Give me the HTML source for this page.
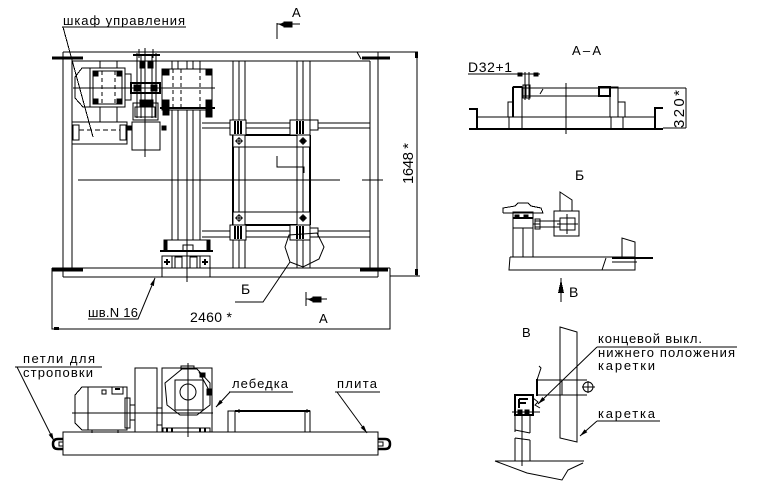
<!DOCTYPE html>
<html><head><meta charset="utf-8">
<style>
html,body{margin:0;padding:0;background:#fff;}
svg{display:block;}
text{font-family:"Liberation Sans","DejaVu Sans",sans-serif;fill:#000;stroke:none;}
</style></head><body>
<svg width="758" height="495" viewBox="0 0 758 495" xmlns="http://www.w3.org/2000/svg">
<defs>
<marker id="ah" markerWidth="8" markerHeight="4" refX="8" refY="2" orient="auto" markerUnits="userSpaceOnUse">
<path d="M0,0 L8,2 L0,4 z" fill="#000"/>
</marker>
</defs>
<rect width="758" height="495" fill="#fff"/>
<g stroke="#000" stroke-width="1" fill="none" shape-rendering="crispEdges">

<!-- ============ MAIN PLAN VIEW ============ -->
<path d="M63,52 H418 M63,52 V277 M72,61 V268 M72,61 H370 M370,61 V268 M378,52 V277 M52,268 H390 M63,277 H378"/>
<path d="M357,52 L361,59" shape-rendering="auto"/>
<path d="M52,58 H83 M52,270 H83 M360,270 H388 M362,58 H390" stroke-width="3"/>
<path d="M52,268 V329 H390 V268"/>
<rect x="54" y="327" width="5" height="3" fill="#000" stroke="none"/>
<path d="M417,52 V276 M390,276 H420"/>
<rect x="415" y="52" width="3" height="6" fill="#000" stroke="none"/>
<rect x="415" y="269" width="3" height="6" fill="#000" stroke="none"/>

<!-- cabinet -->
<rect x="72" y="122" width="55" height="22"/>
<rect x="73" y="125" width="6" height="15"/>
<rect x="120" y="125" width="6" height="15"/>
<path d="M79,130 H120" stroke-dasharray="5,3"/>
<path d="M100,61 V68 M117,61 V68 M100,107 V122 M117,107 V122"/>
<!-- motor -->
<polyline points="90,68 82,68 75,77 75,98 83,107 90,107"/>
<rect x="90" y="68" width="35" height="39" fill="#fff"/>
<rect x="93" y="71" width="29" height="33"/>
<path d="M102,71 V104 M115,71 V104" stroke-dasharray="4,3"/>
<rect x="94" y="72" width="4" height="4" fill="#000"/>
<rect x="117" y="72" width="4" height="4" fill="#000"/>
<rect x="94" y="99" width="4" height="4" fill="#000"/>
<rect x="117" y="99" width="4" height="4" fill="#000"/>
<rect x="125" y="74" width="6" height="26"/>
<!-- centre column gearbox -->
<path d="M137,53 V118 M156,53 V118 M141,55 V118 M152,55 V118"/>
<path d="M133,55 H160" stroke-width="2"/>
<path d="M139,49 V58 M153,49 V58"/>
<rect x="140" y="62" width="5" height="6" fill="#000"/>
<rect x="148" y="62" width="5" height="6" fill="#000"/>
<rect x="140" y="100" width="13" height="6" fill="#000"/>
<rect x="131" y="83" width="29" height="10" stroke-width="2"/>
<rect x="134" y="85" width="6" height="6" fill="#000"/>
<rect x="151" y="85" width="6" height="6" fill="#000"/>
<rect x="133" y="103" width="25" height="17"/>
<rect x="135" y="107" width="20" height="10"/>
<rect x="132" y="122" width="28" height="28"/>
<rect x="127" y="126" width="4" height="4" fill="#000"/>
<rect x="162" y="126" width="4" height="4" fill="#000"/>
<path d="M145,48 V157"/>
<!-- right box (drum) -->
<path d="M172,61 V69 M178,61 V69 M187,61 V69 M193,61 V69 M200,61 V69"/>
<path d="M172,110 V240 M178,110 V240 M187,110 V240 M193,110 V240 M200,110 V240"/>
<rect x="162" y="69" width="50" height="41"/>
<path d="M173,69 V110 M181,69 V110 M200,69 V110" stroke-dasharray="4,3"/>
<rect x="163" y="69" width="6" height="6" fill="#000"/>
<rect x="206" y="69" width="6" height="6" fill="#000"/>
<rect x="163" y="100" width="6" height="15" fill="#000"/>
<rect x="206" y="100" width="6" height="17" fill="#000"/>
<path d="M160,108 H215" stroke-width="2"/>
<path d="M73,88 H215"/>

<!-- rails/guides -->
<path d="M233,61 V268 M239,61 V268 M245,61 V268 M297,61 V268 M303,61 V268 M310,61 V268"/>
<path d="M202,123 H370 M202,128 H370 M202,231 H370 M202,237 H370"/>
<!-- carriage -->
<path d="M233,135 H310 M233,225 H310 M233,135 V225 M310,135 V225" stroke-width="2"/>
<path d="M245,147 H297 M245,212 H297"/>
<!-- corner blocks -->
<rect x="230" y="120" width="16" height="15" fill="#fff"/>
<path d="M235,121 V134 M238,121 V134 M241,121 V134" stroke-width="2"/>
<rect x="233" y="135" width="12" height="12" fill="#fff"/>
<rect x="290" y="120" width="20" height="15" fill="#fff"/>
<rect x="310" y="120" width="8" height="10" fill="#fff"/>
<path d="M297,121 V134 M300,121 V134 M303,121 V134" stroke-width="2"/>
<rect x="297" y="135" width="13" height="12" fill="#fff"/>
<rect x="233" y="212" width="12" height="13" fill="#fff"/>
<rect x="230" y="225" width="16" height="15" fill="#fff"/>
<path d="M235,226 V239 M238,226 V239 M241,226 V239" stroke-width="2"/>
<rect x="297" y="212" width="13" height="13" fill="#fff"/>
<rect x="290" y="225" width="20" height="15" fill="#fff"/>
<rect x="310" y="228" width="8" height="9" fill="#fff"/>
<path d="M297,226 V239 M300,226 V239 M303,226 V239" stroke-width="2"/>
<g shape-rendering="auto">
<circle cx="239" cy="141" r="2.5"/><path d="M235,141 H243 M239,137 V145"/>
<circle cx="303" cy="141" r="2.5" fill="#000"/><path d="M299,141 H307 M303,137 V145"/>
<circle cx="239" cy="218" r="2.5"/><path d="M235,218 H243 M239,214 V222"/>
<circle cx="303" cy="218" r="2.5" fill="#000"/><path d="M299,218 H307 M303,214 V222"/>
</g>
<path d="M277,156 V167 H304 V173"/>
<path d="M78,180 H340 M362,180 H383"/>
<polygon points="285,247 289,235 317,233 324,247 319,259 303,267 290,262" shape-rendering="auto"/>

<!-- lower unit -->
<rect x="167" y="240" width="40" height="11"/>
<rect x="183" y="245" width="10" height="6"/>
<rect x="164" y="240" width="3" height="11" fill="#000"/>
<rect x="207" y="240" width="3" height="11" fill="#000"/>
<path d="M160,251 H213" stroke-width="2"/>
<rect x="162" y="256" width="48" height="12"/>
<rect x="162" y="256" width="10" height="12"/>
<rect x="200" y="256" width="10" height="12"/>
<rect x="175" y="257" width="7" height="11"/>
<rect x="190" y="257" width="7" height="11"/>
<path d="M164,262 H170 M167,259 V265 M202,262 H208 M205,259 V265" stroke-width="2"/>
<rect x="162" y="268" width="48" height="9"/>
<path d="M187,240 V282"/>

<!-- leaders main -->
<path d="M62,27 H186 M63,27 L93,137"/>
<path d="M88,319 H138 L155,278" marker-end="url(#ah)" shape-rendering="auto"/>
<path d="M235,302 H263 L290,262" shape-rendering="auto"/>
<path d="M277,23 V39 M277,24 H300"/>
<rect x="284" y="22" width="8" height="5" fill="#000"/>
<polygon points="279,24.5 284,22 284,27" fill="#000" stroke="none"/>
<path d="M306,292 V306 M306,299 H327"/>
<rect x="313" y="297" width="8" height="5" fill="#000"/>
<polygon points="308,299.5 313,297 313,302" fill="#000" stroke="none"/>

<!-- ============ SECTION A-A ============ -->
<path d="M477,117 H655"/>
<path d="M469,129 H663" stroke-width="2"/>
<path d="M663,128 H686 M522,88 H686 M686,88 V128 M522,96 H599"/>
<path d="M469,109 H477 V129 M663,108 H655 V128" stroke-width="2"/>
<rect x="513" y="87" width="9" height="30"/>
<path d="M513,87 H522 M513,87 V117" stroke-width="2"/>
<rect x="508" y="102" width="5" height="15"/>
<rect x="509" y="117" width="13" height="12"/>
<rect x="523" y="85" width="7" height="13"/>
<path d="M526,85 V98"/>
<path d="M540,94 L543,89" shape-rendering="auto"/>
<rect x="599" y="87" width="11" height="9" stroke-width="2"/>
<rect x="610" y="87" width="8" height="30"/>
<rect x="618" y="102" width="7" height="15"/>
<rect x="611" y="117" width="12" height="12"/>
<path d="M566,83 V134"/>
<path d="M468,74 H540 M525,72 V100 M529,72 V100"/>
<rect x="518" y="73" width="4" height="3" fill="#000"/>
<rect x="534" y="73" width="4" height="3" fill="#000"/>

<!-- ============ VIEW Б ============ -->
<polyline points="503,213 503,208 515,206 518,203 528,203 531,206 541,208 543,213 503,213"/>
<rect x="513" y="212" width="20" height="16"/>
<path d="M513,218 H533" stroke-width="2"/>
<rect x="515" y="215" width="4" height="3" fill="#000"/>
<rect x="524" y="215" width="4" height="3" fill="#000"/>
<path d="M513,228 V257 M523,228 V257 M533,228 V257"/>
<path d="M535,221 H560 M535,227 H560"/>
<rect x="535" y="219" width="5" height="10"/>
<path d="M533,224 H540"/>
<path d="M560,211 V192 L572,200 V211" shape-rendering="auto"/>
<rect x="554" y="211" width="25" height="25"/>
<rect x="560" y="218" width="15" height="12"/>
<path d="M567,214 V234 M557,224 H578"/>
<path d="M510,257 H635 M510,257 L509,270 H635 V257 M606,258 L602,270" shape-rendering="auto"/>
<path d="M622,257 V238 L635,242 V257" shape-rendering="auto"/>
<path d="M612,258 H653" stroke-width="2"/>
<path d="M612,262 H637"/>
<path d="M561,278 V302"/>
<polygon points="561,279 558,293 564,293" fill="#000" stroke="none"/>

<!-- ============ VIEW В ============ -->
<polygon points="560,327 577,332 577,442 560,438" shape-rendering="auto"/>
<path d="M537,380 H587 M537,395 H587 M562,380 V395"/>
<path d="M537,379 V396" stroke-width="2"/>
<g shape-rendering="auto">
<circle cx="588" cy="387" r="5"/>
<path d="M582,387 H595 M588,381 V393"/>
<path d="M537,380 L541,368 L539,366"/>
<path d="M533,398 L538,402 L535,405 L540,408"/>
</g>
<rect x="515" y="395" width="18" height="20" stroke-width="2"/>
<path d="M519,399 V408 M519,399 H528 M519,403 H526" stroke-width="2"/>
<path d="M512,412 H540"/>
<rect x="518" y="410" width="4" height="4" fill="#000"/>
<rect x="525" y="410" width="4" height="4" fill="#000"/>
<path d="M515,415 V432 M530,415 V433 M515,438 V461 M530,440 V461 M522,410 V466"/>
<path d="M515,430 L530,433 M515,438 L530,440" shape-rendering="auto"/>
<path d="M495,461 H584"/>
<polyline points="495,461 527,473 562,480 568,470 583,463" shape-rendering="auto"/>
<path d="M597,347 H737"/>
<path d="M597,347 L538,404" marker-end="url(#ah)" shape-rendering="auto"/>
<path d="M597,421 H660"/>
<path d="M597,421 L580,436" marker-end="url(#ah)" shape-rendering="auto"/>

<!-- ============ SIDE VIEW ============ -->
<rect x="63" y="432" width="315" height="23"/>
<g shape-rendering="auto">
<path d="M63,439 H58 Q53,439 53,444 Q53,449 58,449 H63" stroke-width="2.5"/>
<path d="M378,439 H385 Q390,439 390,444 Q390,449 385,449 H378" stroke-width="2.5"/>
<path d="M63,442 H59 V446 H63 M378,442 H383 V446 H378"/>
</g>
<polygon points="82,387 127,387 127,430 82,430 75,423 75,395"/>
<path d="M88,387 V430"/>
<rect x="125" y="398" width="5" height="30"/>
<rect x="130" y="405" width="5" height="15"/>
<rect x="102" y="390" width="4" height="4"/>
<rect x="112" y="387" width="11" height="7"/>
<path d="M115,389 H120" stroke-width="2"/>
<path d="M92,430 V433 M118,430 V433"/>
<rect x="135" y="368" width="22" height="64"/>
<rect x="157" y="408" width="5" height="17"/>
<rect x="162" y="368" width="50" height="64"/>
<polygon points="182,369 197,369 210,383 210,405 197,415 180,415 167,405 165,383" shape-rendering="auto"/>
<rect x="175" y="380" width="28" height="30"/>
<circle cx="188" cy="392" r="8" shape-rendering="auto"/>
<rect x="181" y="366" width="13" height="3"/>
<rect x="207" y="389" width="5" height="6" fill="#000"/>
<rect x="200" y="373" width="5" height="4" fill="#000"/>
<path d="M199,372 L210,392" shape-rendering="auto"/>
<rect x="163" y="428" width="47" height="4"/>
<path d="M167,428 V432 M172,428 V432 M200,428 V432 M205,428 V432" stroke-width="2"/>
<path d="M72,413 H213 M188,363 V437"/>
<rect x="228" y="411" width="82" height="21"/>
<path d="M235,411 V432 M305,411 V432"/>
<path d="M235,411 H310" stroke-width="2"/>
<path d="M239,409 V413 M307,409 V413"/>
<path d="M15,367 H102"/>
<path d="M17,367 L54,441" marker-end="url(#ah)" shape-rendering="auto"/>
<path d="M229,392 H293"/>
<path d="M230,392 L216,407" marker-end="url(#ah)" shape-rendering="auto"/>
<path d="M335,392 H380"/>
<path d="M337,392 L367,433" marker-end="url(#ah)" shape-rendering="auto"/>
</g>

<!-- ============ TEXT ============ -->
<text x="63" y="25" font-size="13" textLength="122" lengthAdjust="spacing">шкаф управления</text>
<text x="292" y="17" font-size="13">A</text>
<text x="319" y="323" font-size="13">A</text>
<text transform="translate(413,184) rotate(-90)" font-size="15" textLength="41" lengthAdjust="spacing">1648 *</text>
<text x="190" y="322" font-size="14" textLength="42" lengthAdjust="spacing">2460 *</text>
<text x="88" y="317" font-size="13" textLength="50" lengthAdjust="spacing">шв.N 16</text>
<text x="241" y="294" font-size="14">Б</text>
<text x="572" y="55" font-size="13" textLength="29" lengthAdjust="spacing">A–A</text>
<text x="468" y="72" font-size="14" textLength="44" lengthAdjust="spacing">D32+1</text>
<text transform="translate(684,128) rotate(-90)" font-size="15" textLength="38" lengthAdjust="spacing">320*</text>
<text x="575" y="180" font-size="14">Б</text>
<text x="569" y="297" font-size="14">В</text>
<text x="522" y="337" font-size="13">В</text>
<text x="598" y="343" font-size="13" textLength="104" lengthAdjust="spacing">концевой выкл.</text>
<text x="598" y="357" font-size="13" textLength="137" lengthAdjust="spacing">нижнего положения</text>
<text x="598" y="370" font-size="13" textLength="57" lengthAdjust="spacing">каретки</text>
<text x="598" y="418" font-size="13" textLength="57" lengthAdjust="spacing">каретка</text>
<text x="23" y="363" font-size="13" textLength="72" lengthAdjust="spacing">петли для</text>
<text x="23" y="377" font-size="13" textLength="70" lengthAdjust="spacing">строповки</text>
<text x="232" y="388" font-size="13" textLength="56" lengthAdjust="spacing">лебедка</text>
<text x="337" y="388" font-size="13" textLength="40" lengthAdjust="spacing">плита</text>
</svg>
</body></html>
